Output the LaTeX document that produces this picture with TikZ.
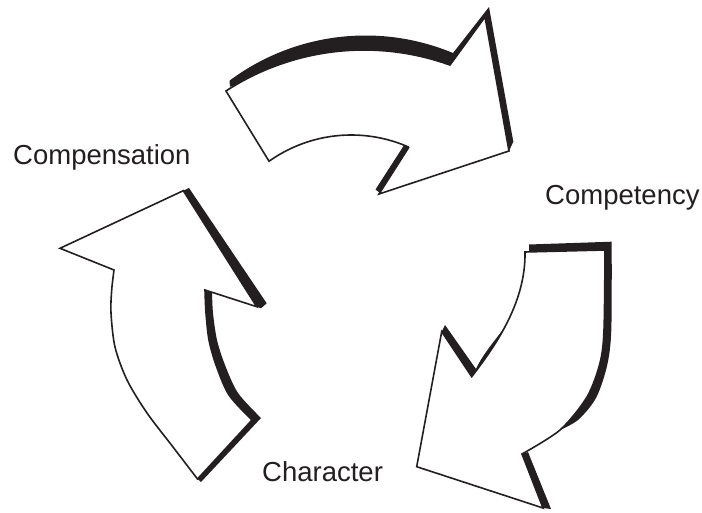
\documentclass[tikz,border=0pt]{standalone}
\usepackage{fontspec}
\setmainfont{Liberation Sans}
\definecolor{ink}{HTML}{231F20}
\begin{document}
\begin{tikzpicture}[x=1pt,y=-1pt,
  body/.style={fill=white,draw=ink,line width=1.6pt,line join=miter},
  shadowband/.style={fill=ink},
  lbl/.style={font=\fontsize{27.5}{30}\selectfont,text=ink,inner sep=0pt,anchor=base west}]
\useasboundingbox[fill=white] (0,0) rectangle (702,513);

% ---------- shadows ----------
% top arrow
\fill[shadowband] (230,86.7) -- (229.5,80.7)
  -- plot[domain=-126.75:-67.35,samples=60,variable=\t] ({365.5+227.3*cos(\t)},{262.8+227.3*sin(\t)})
  -- (489,7) -- (513.3,141.7) -- (509,151) -- (495,120) -- (480,40) -- (450,75) -- (363,60) -- (280,75) -- cycle;
\fill[shadowband] (380,193) -- (375.5,189.5) -- (404.5,144.5) -- (409,147) -- (401,168) -- cycle;
% right arrow
\fill[shadowband] (529,250.7) -- (529,244.5) -- (611.7,241.7)
  -- plot[smooth] coordinates {(611.7,241.7) (611.3,330) (607,366) (596,398) (578,420) (558,431)}
  -- (560,420) -- (585,380) -- (597,300) -- (600,256) -- (529,256) -- cycle;
\fill[shadowband] (520,455) -- (528,452) -- (551,509) -- (543,508) -- (530,480) -- cycle;
\fill[shadowband] (441.7,331.7) -- (445,325) -- (476,369)
  .. controls (487,344) and (519,318) .. (521.5,292)
  -- (528,292) -- (500,345) -- (475,385) -- (443.5,340) -- cycle;
% left arrow
\fill[shadowband] (183.3,190.7) -- (189,188) -- (266.7,303.3) -- (261,308.3) -- (256.7,306.7) -- cycle;
\fill[shadowband] (205,291) -- (212,292)
  -- plot[smooth] coordinates {(212,292) (213,313) (217,340) (225,365) (238,393) (261,418)}
  -- (201,482) -- (197.5,479) -- (230,420) -- (212,360) -- (203,300) -- cycle;

% ---------- arrow bodies ----------
\draw[body] (226,91)
  -- plot[domain=-123.06:-70.13,samples=60,variable=\t] ({364+253*cos(\t)},{303+253*sin(\t)})
  -- (485,17) -- (509,151) -- (379,194) -- (409,147)
  -- plot[domain=-66.1:-125.4,samples=60,variable=\t] ({351.3+142*cos(\t)},{277+142*sin(\t)})
  -- cycle;
\draw[body] (525,252) -- (605,250)
  -- plot[smooth] coordinates {(605,250) (604,330) (600,363) (587,397) (560,430) (522,454)}
  -- (543,508) -- (416.7,466.7) -- (441.7,331.7) -- (471.7,376.7)
  .. controls (492,350) and (526,305) .. (525,252)
  -- cycle;
\draw[body] (183.3,190.7) -- (60,248.3) -- (114,270)
  -- plot[smooth] coordinates {(114,270) (111.7,290) (111,313) (115,347) (127,380) (147,413) (173,447) (197.5,479)}
  -- (252,420)
  -- plot[smooth] coordinates {(252,420) (229,395) (216,365) (209,340) (206,313) (205,290)}
  -- (256.7,306.7) -- cycle;

% ---------- labels ----------
\node[lbl] (compensation) at (13,164.3) {Compensation};
\node[lbl] (competency) at (545,204.5) {Competency};
\node[lbl] (character) at (262,481.7) {Character};
\end{tikzpicture}
\end{document}
